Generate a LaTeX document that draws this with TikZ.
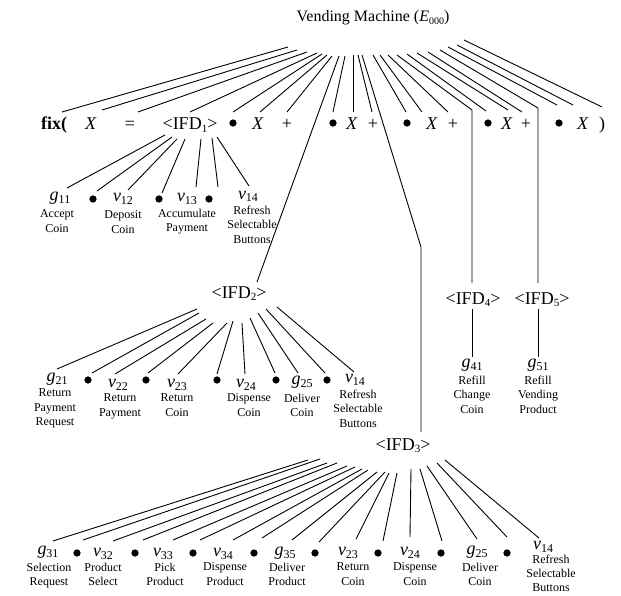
\documentclass[tikz,border=0pt]{standalone}
\usepackage{fontspec}
\setmainfont{Liberation Serif}
\usetikzlibrary{calc}
% lowered small digits used as indices
\newcommand{\lsub}[1]{\raisebox{-2.5pt}{\fontsize{11}{11}\selectfont #1}}
\newcommand{\lsubl}[1]{\raisebox{-2.5pt}{\fontsize{12}{12}\selectfont #1}}
\newcommand{\lsubs}[1]{\raisebox{-2.5pt}{\fontsize{10}{10}\selectfont #1}}
\newcommand{\leafsym}[2]{\textit{#1}\lsubl{#2}}
\begin{document}
\begin{tikzpicture}[x=1pt,y=-1pt,
  every node/.style={inner sep=0pt,outer sep=0pt},
  heading/.style={font=\fontsize{16}{16}\selectfont},
  rowtext/.style={font=\fontsize{18}{18}\selectfont,text height=12pt,text depth=0pt},
  ifd/.style={font=\fontsize{18}{18}\selectfont,text height=12pt,text depth=0pt},
  bull/.style={circle,fill=black,minimum size=7.3pt},
  sym/.style={font=\fontsize{18}{18}\selectfont,text height=7pt,text depth=0pt},
  lbl/.style={font=\fontsize{12}{14.5}\selectfont,align=center,anchor=north},
  conn/.style={line width=0.9pt}
]
\useasboundingbox (0,0) rectangle (621,596);

% ---------- title ----------
\node[heading] (title) at (373,18) {Vending Machine (\textit{E}\lsubs{000})};

% ---------- fixpoint equation ----------
\node[rowtext] (e1) at (54,124) {\textbf{fix(}};
\node[rowtext] (e2) at (91,124) {\textit{X}};
\node[rowtext] (e3) at (130,124) {=};
\node[ifd,alias=ifd1] (e4) at (190,124) {<IFD\lsub{1}>};
\node[bull] (e5) at (233,123) {};
\node[rowtext] (e6) at (258,124) {\textit{X}};
\node[rowtext] (e7) at (287,124) {+};
\node[bull] (e9) at (333,123) {};
\node[rowtext] (e10) at (352,124) {\textit{X}};
\node[rowtext] (e11) at (373,124) {+};
\node[bull] (e13) at (407,123) {};
\node[rowtext] (e14) at (432,124) {\textit{X}};
\node[rowtext] (e15) at (453,124) {+};
\node[bull] (e17) at (488,123) {};
\node[rowtext] (e18) at (507,124) {\textit{X}};
\node[rowtext] (e19) at (526,124) {+};
\node[bull] (e21) at (559,123) {};
\node[rowtext] (e22) at (583,124) {\textit{X}};
\node[rowtext] (e23) at (602,124) {)};

% ---------- sub-diagrams ----------
\node[ifd] (ifd2) at (239,292) {<IFD\lsub{2}>};
\node[ifd] (ifd3) at (403,444) {<IFD\lsub{3}>};
\node[ifd] (ifd4) at (473,298) {<IFD\lsub{4}>};
\node[ifd] (ifd5) at (542,298) {<IFD\lsub{5}>};

% upper ends of the fan under the title
\foreach \i/\x/\y in {1/288/47, 2/297/50, 3/307/52, 4/317/53, 5/322/54,
    6/327/55, 7/332/56, 8/339/56, 9/345/56, 10/353/55, 11/358/55,
    12/362/55, 13/373/55, 14/380/55, 15/388/55, 16/397/55, 17/407/54,
    18/417/53, 19/428/52, 20/440/50, 21/448/47, 22/457/45, 23/464/40}
  \coordinate (t\i) at (\x,\y);

\foreach \i/\dx/\dy in {1/8/-12, 2/11/-14, 3/8/-12, 4/0/-12, 5/0/-11,
    6/2/-12, 7/0/-12, 9/0/-11, 10/1/-12, 11/-1/-12, 13/-1/-11,
    14/-10/-12, 15/-5/-12, 17/-2/-12, 18/1/-14, 19/-4/-12,
    21/-2/-18, 22/-10/-19, 23/0/-17}
  \draw[conn] (t\i) -- ($(e\i.center)+(\dx,\dy)$);

% branches down to IFD2 .. IFD5
\draw[conn] (t8) -- ($(ifd2.center)+(18,-10)$);
\coordinate (k3) at (421,247);
\coordinate (ifd3top) at ($(ifd3.center)+(18,-12)$);
\draw[conn] (t12) -- (k3) -- (k3 |- ifd3top);
\coordinate (k4) at (472,110);
\coordinate (ifd4top) at ($(ifd4.center)+(-1,-15)$);
\draw[conn] (t16) -- (k4) -- (k4 |- ifd4top);
\coordinate (k5) at (538,108);
\coordinate (ifd5top) at ($(ifd5.center)+(-4,-15)$);
\draw[conn] (t20) -- (k5) -- (k5 |- ifd5top);

% ---------- IFD1 ----------
\node[sym] (a1) at (60,197) {\leafsym{g}{11}};
\node[bull] (a2) at (93,199) {};
\node[sym] (a3) at (123,198) {\leafsym{v}{12}};
\node[bull] (a4) at (159,199) {};
\node[sym] (a5) at (187,198) {\leafsym{v}{13}};
\node[bull] (a6) at (209,199) {};
\node[sym] (a7) at (248,196) {\leafsym{v}{14}};
\foreach \i/\tx/\ty/\bx/\by in {1/-25/11/7/-9, 2/-18/13/4/-8, 3/-13/15/5/-8,
    4/-5/15/3/-6, 5/11/15/9/-11, 6/22/14/9/-12, 7/27/13/1/-10}
  \draw[conn] ($(ifd1.center)+(\tx,\ty)$) -- ($(a\i.center)+(\bx,\by)$);
\node[lbl] at (57,210) {Accept\\Coin};
\node[lbl] at (123,211) {Deposit\\Coin};
\node[lbl] at (187,209) {Accumulate\\Payment};
\node[lbl] at (252,206) {Refresh\\Selectable\\Buttons};

% ---------- IFD2 ----------
\node[sym] (b1) at (57,378) {\leafsym{g}{21}};
\node[bull] (b2) at (88,380) {};
\node[sym] (b3) at (118,384) {\leafsym{v}{22}};
\node[bull] (b4) at (146,380) {};
\node[sym] (b5) at (177,384) {\leafsym{v}{23}};
\node[bull] (b6) at (217,380) {};
\node[sym] (b7) at (246,384) {\leafsym{v}{24}};
\node[bull] (b8) at (276,380) {};
\node[sym] (b9) at (302,381) {\leafsym{g}{25}};
\node[bull] (b10) at (327,380) {};
\node[sym] (b11) at (355,379) {\leafsym{v}{14}};
\foreach \i/\tx/\ty/\bx/\by in {1/-42/17/0/-9, 2/-40/21/4/-7, 3/-33/27/-3/-10,
    4/-26/31/2/-7, 5/-12/31/1/-10, 6/-6/29/0/-6, 7/3/31/-1/-10,
    8/11/26/-1/-7, 9/19/21/-4/-8, 10/27/17/-2/-7, 11/38/15/-1/-7}
  \draw[conn] ($(ifd2.center)+(\tx,\ty)$) -- ($(b\i.center)+(\bx,\by)$);
\node[lbl] at (55,389) {Return\\Payment\\Request};
\node[lbl] at (120,394) {Return\\Payment};
\node[lbl] at (177,394) {Return\\Coin};
\node[lbl] at (249,394) {Dispense\\Coin};
\node[lbl] at (302,394) {Deliver\\Coin};
\node[lbl] at (358,390) {Refresh\\Selectable\\Buttons};

% ---------- IFD3 ----------
\node[sym] (c1) at (48,551) {\leafsym{g}{31}};
\node[bull] (c2) at (77,553) {};
\node[sym] (c3) at (103,553) {\leafsym{v}{32}};
\node[bull] (c4) at (135,553) {};
\node[sym] (c5) at (163,553) {\leafsym{v}{33}};
\node[bull] (c6) at (193,553) {};
\node[sym] (c7) at (223,553) {\leafsym{v}{34}};
\node[bull] (c8) at (254,553) {};
\node[sym] (c9) at (285,552) {\leafsym{g}{35}};
\node[bull] (c10) at (315,553) {};
\node[sym] (c11) at (348,552) {\leafsym{v}{23}};
\node[bull] (c12) at (378,553) {};
\node[sym] (c13) at (410,552) {\leafsym{v}{24}};
\node[bull] (c14) at (441,553) {};
\node[sym] (c15) at (477,551) {\leafsym{g}{25}};
\node[bull] (c16) at (507,553) {};
\node[sym] (c17) at (543,546) {\leafsym{v}{14}};
\foreach \i/\tx/\ty/\bx/\by in {1/-95/16/5/-10, 2/-83/15/6/-13, 3/-76/19/10/-12,
    4/-66/19/8/-13, 5/-56/22/10/-13, 6/-48/23/7/-13, 7/-41/25/10/-13,
    8/-35/26/8/-15, 9/-26/28/7/-12, 10/-18/28/4/-11, 11/-14/29/8/-13,
    12/-6/29/5/-12, 13/8/25/0/-15, 14/17/25/1/-12, 15/24/22/0/-12,
    16/34/19/0/-16, 17/42/16/-4/-8}
  \draw[conn] ($(ifd3.center)+(\tx,\ty)$) -- ($(c\i.center)+(\bx,\by)$);
\node[lbl] at (49,563) {Selection\\Request};
\node[lbl] at (103,563) {Product\\Select};
\node[lbl] at (165,563) {Pick\\Product};
\node[lbl] at (225,563) {Dispense\\Product};
\node[lbl] at (287,563) {Deliver\\Product};
\node[lbl] at (353,563) {Return\\Coin};
\node[lbl] at (415,563) {Dispense\\Coin};
\node[lbl] at (480,563) {Deliver\\Coin};
\node[lbl,font=\fontsize{12}{13.8}\selectfont] at (551,555) {Refresh\\Selectable\\Buttons};

% ---------- IFD4 and IFD5 ----------
\node[sym] (d1) at (472,364) {\leafsym{g}{41}};
\node[sym] (f1) at (538,364) {\leafsym{g}{51}};
\draw[conn] ($(ifd4.center)+(-1,11)$) -- ($(d1.center)+(0,-7)$);
\draw[conn] ($(ifd5.center)+(-4,11)$) -- ($(f1.center)+(0,-7)$);
\node[lbl] at (472,376) {Refill\\Change\\Coin};
\node[lbl] at (538,376) {Refill\\Vending\\Product};
\end{tikzpicture}
\end{document}
